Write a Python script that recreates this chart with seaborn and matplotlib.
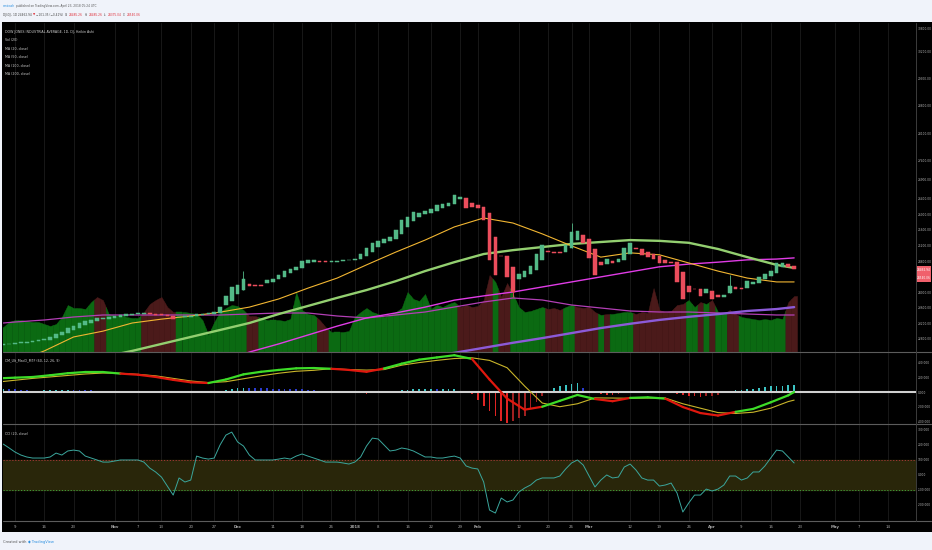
import numpy as np
import matplotlib
matplotlib.use("Agg")
import matplotlib.pyplot as plt
import matplotlib.transforms as mtransforms
import seaborn as sns
from matplotlib.collections import LineCollection
from matplotlib.patches import Rectangle
from matplotlib.lines import Line2D

W, H = 932, 550

# Trading-day positions: 0 = Oct 9 2017, last bar (133) = Apr 20 2018
bar_idx = np.arange(-2, 134)

# Heikin Ashi candles (one value per bar, from Oct 5 2017)
ha_open = [
    22620, 22650, 22660, 22680, 22690, 22710, 22730, 22750, 22770, 22810,
    22880, 22950, 23020, 23070, 23140, 23190, 23240, 23300, 23310, 23340,
    23360, 23380, 23400, 23420, 23440, 23460, 23440, 23420, 23410, 23390,
    23350, 23360, 23360, 23370, 23410, 23420, 23440, 23470, 23660, 23780,
    23950, 24060, 24200, 24180, 24170, 24220, 24270, 24330, 24400, 24500,
    24570, 24610, 24740, 24780, 24800, 24790, 24770, 24780, 24800, 24820,
    24830, 24840, 24930, 25040, 25170, 25260, 25320, 25380, 25500, 25690,
    25820, 25940, 26000, 26050, 26100, 26160, 26220, 26270, 26390, 26420,
    26290, 26250, 26200, 26030, 25430, 24930, 24930, 24650, 24330, 24400,
    24470, 24570, 24830, 25060, 25040, 25020, 25020, 25130, 25340, 25460,
    25360, 25120, 24780, 24720, 24810, 24780, 24830, 24990, 25130, 25120,
    25040, 24980, 24920, 24830, 24780, 24770, 24520, 24160, 24090, 24080,
    23980, 24030, 23910, 23880, 23970, 24120, 24110, 24100, 24210, 24240,
    24330, 24410, 24500, 24640, 24710, 24680,
]
ha_close = [
    22660, 22670, 22680, 22700, 22720, 22730, 22750, 22780, 22830, 22920,
    22980, 23060, 23110, 23190, 23240, 23280, 23320, 23330, 23350, 23370,
    23400, 23420, 23430, 23450, 23470, 23430, 23410, 23400, 23380, 23300,
    23360, 23370, 23390, 23430, 23420, 23460, 23480, 23620, 23900, 24120,
    24180, 24330, 24160, 24150, 24160, 24310, 24340, 24430, 24550, 24600,
    24640, 24810, 24820, 24830, 24770, 24770, 24790, 24810, 24830, 24830,
    24860, 24980, 25130, 25270, 25320, 25370, 25430, 25600, 25860, 25940,
    26060, 26050, 26090, 26150, 26240, 26270, 26290, 26500, 26460, 26160,
    26200, 26160, 25860, 24830, 24430, 24920, 24380, 24010, 24470, 24550,
    24670, 24980, 25210, 25030, 25000, 25010, 25200, 25560, 25570, 25260,
    24870, 24440, 24700, 24860, 24760, 24860, 25140, 25260, 25110, 24960,
    24910, 24860, 24740, 24740, 24750, 24270, 23810, 24010, 24080, 23900,
    24070, 23810, 23860, 23930, 24160, 24090, 24090, 24290, 24260, 24380,
    24460, 24550, 24740, 24760, 24650, 24590,
]
# the few visible wicks
wick_idx = [39, 85, 95, 122]
wick_hi = [24530, 24650, 25770, 24440]
wick_lo = [24060, 23860, 25130, 23970]

# Volume (millions) and the bars shown in red
volume = [
    200, 240, 256, 256, 248, 240, 240, 224, 208, 224,
    280, 376, 352, 352, 344, 400, 440, 416, 304, 288,
    296, 280, 272, 272, 320, 384, 416, 440, 360, 320,
    320, 320, 312, 304, 256, 136, 240, 320, 352, 376,
    368, 336, 288, 288, 272, 256, 256, 256, 248, 264,
    480, 336, 304, 296, 256, 200, 160, 160, 160, 168,
    280, 320, 352, 320, 304, 280, 296, 320, 352, 480,
    424, 408, 464, 344, 376, 360, 384, 400, 360, 376,
    360, 368, 416, 616, 560, 440, 552, 464, 360, 320,
    328, 344, 360, 344, 352, 336, 360, 376, 360, 352,
    360, 320, 296, 304, 304, 312, 320, 320, 304, 320,
    312, 512, 336, 320, 328, 376, 384, 416, 360, 400,
    384, 416, 320, 304, 336, 304, 280, 272, 264, 256,
    264, 256, 272, 264, 400, 448,
]
vol_red_idx = [14, 15, 22, 23, 24, 25, 26, 27, 40, 41, 52, 53, 76, 77, 78, 79,
               80, 81, 83, 84, 91, 92, 93, 96, 97, 98, 99, 101, 106, 107, 108,
               109, 110, 111, 112, 113, 114, 117, 119, 122, 123, 132, 133]
volma_idx = [-2] + list(range(0, 131, 5)) + [133]
vol_ma = [232, 240, 256, 280, 296, 296, 296, 296, 296, 304, 312, 312, 288, 272,
          296, 320, 360, 400, 432, 416, 376, 352, 328, 320, 320, 312, 304, 296, 296]

# Moving averages, read every 5 bars
ma_idx = list(range(0, 131, 5)) + [133]
ma20 = [22190, 22480, 22840, 22990, 23200, 23300, 23380, 23480, 23610, 23820,
        24100, 24360, 24700, 25030, 25340, 25680, 25910, 25780, 25500, 25190,
        24900, 25010, 24960, 24750, 24540, 24360, 24260, 24260]
ma50 = [21860, 21990, 22140, 22320, 22480, 22660, 22840, 23020, 23200, 23430,
        23640, 23850, 24050, 24280, 24540, 24770, 24980, 25080, 25160, 25240,
        25290, 25340, 25320, 25270, 25110, 24900, 24700, 24620]
ma100_idx = list(range(30, 131, 5)) + [133]
ma100 = [21940, 22190, 22450, 22660, 22890, 23120, 23330, 23460, 23610, 23790,
         23900, 24000, 24130, 24260, 24390, 24520, 24650, 24720, 24770, 24830,
         24850, 24880]
ma200_idx = list(range(70, 131, 5)) + [133]
ma200 = [22320, 22430, 22560, 22690, 22810, 22940, 23070, 23180, 23280, 23360,
         23430, 23510, 23560, 23610]

# MACD lines, read every 3 bars; histogram per bar
macd_idx = list(range(-3, 133, 3)) + [133]
macd_line = [185, 195, 204, 228, 255, 272, 272, 250, 235, 205, 165, 132, 122, 170,
             240, 275, 300, 322, 326, 316, 300, 275, 320, 385, 440, 470, 500, 450,
             170, -90, -240, -200, -120, -40, -95, -125, -80, -72, -90, -204, -286,
             -320, -270, -230, -140, -45, 0]
macd_signal = [135, 160, 185, 205, 225, 245, 258, 255, 240, 220, 185, 150, 128, 140,
               180, 220, 255, 282, 295, 318, 305, 298, 305, 365, 400, 430, 455, 465,
               430, 330, 80, -150, -200, -160, -80, -82, -85, -82, -82, -160, -220,
               -280, -292, -275, -220, -130, -110]
macd_hist = [
    45, 40, 35, 30, 25, 20, 20, 22, 24, 26,
    28, 30, 29, 28, 27, 22, 18, 12, 4, -2,
    -5, -5, -5, -6, -9, -12, -15, -17, -19, -20,
    -20, -19, -18, -14, -10, -4, 8, 20, 30, 42,
    52, 60, 58, 56, 54, 50, 47, 45, 43, 41,
    40, 37, 34, 30, 20, 10, -2, -4, -5, -6,
    -12, -18, -23, -8, 5, 15, 17, 19, 21, 28,
    35, 40, 41, 41, 40, 42, 44, 45, 20, -5,
    -30, -110, -190, -260, -330, -390, -420, -400, -360, -320,
    -230, -140, -50, 10, 50, 80, 100, 115, 120, 60,
    10, -15, -25, -35, -43, -30, -10, 5, 8, 10,
    10, 5, -2, -8, -20, -32, -44, -52, -60, -66,
    -58, -50, -40, -10, 10, 22, 30, 38, 45, 56,
    68, 80, 85, 88, 90, 100,
]

# CCI (20, close), per bar
cci = [
    203, 177, 150, 130, 117, 110, 110, 110, 117, 143,
    130, 157, 163, 157, 123, 110, 97, 83, 83, 90,
    97, 97, 97, 97, 83, 43, 17, -17, -77, -137,
    -23, -50, -37, 123, 110, 103, 110, 197, 263, 283,
    217, 190, 130, 97, 97, 97, 97, 103, 110, 103,
    123, 137, 123, 110, 97, 83, 83, 83, 77, 70,
    83, 117, 190, 243, 237, 197, 157, 163, 177, 170,
    157, 137, 117, 117, 110, 110, 117, 123, 110, 57,
    43, 37, -50, -237, -257, -157, -183, -170, -117, -90,
    -70, -37, -23, -23, -23, -10, 37, 77, 97, 63,
    -10, -83, -37, -3, -23, -17, 50, 70, 30, -23,
    -37, -37, -77, -70, -57, -123, -250, -190, -137, -137,
    -97, -110, -97, -70, -10, -10, -37, -23, 17, 17,
    57, 110, 163, 157, 117, 77,
]

# Axis ticks
tick_pos = [0, 5, 10, 17, 21, 25, 30, 34, 38, 44, 49, 54, 58, 62, 67, 71, 76, 79,
            86, 91, 95, 98, 105, 110, 115, 119, 124, 129, 134, 140, 144, 149]
tick_lab = ["9", "16", "23", "Nov", "7", "13", "20", "27", "Dec", "11", "18", "26",
            "2018", "8", "16", "22", "29", "Feb", "12", "20", "26", "Mar", "12",
            "19", "26", "Apr", "9", "16", "23", "May", "7", "14"]
month_labels = ["Nov", "Dec", "2018", "Feb", "Mar", "Apr", "May"]
price_ticks = [22800, 23200, 23600, 24000, 24800, 25200, 25600, 26000, 26400,
               26900, 27400, 28100, 28800, 29500, 30200, 30800]
macd_ticks = [-400, -200, 0, 200, 400]
cci_ticks = [-200, -100, 0, 100, 200, 300]
last_price = 24462.94

UP, DN = "#53b987", "#eb4d5c"
VOL_UP, VOL_DN = "#0b6a12", "#4b1a1a"
XLIM = (-2.05, 153.8)

sns.set_style("dark", {"axes.facecolor": "black", "figure.facecolor": "#f0f3fa"})
plt.rcParams["font.family"] = ["DejaVu Sans"]
plt.rcParams["patch.force_edgecolor"] = False

fig = plt.figure(figsize=(W / 100, H / 100), dpi=100)
fig.patch.set_facecolor("#f0f3fa")
fig.add_artist(Rectangle((2 / W, 1 - 532 / H), 930 / W, 510 / H, transform=fig.transFigure,
                         facecolor="black", edgecolor="none", zorder=-5))


def px_axes(x0, y0, x1, y1):
    return fig.add_axes([x0 / W, 1 - y1 / H, (x1 - x0) / W, (y1 - y0) / H])


def ftext(x, y, s, **kw):
    return fig.text(x / W, 1 - y / H, s, va="center", ha="left", **kw)


def run_text(x, y, pieces, size):
    r = fig.canvas.get_renderer()
    for s, col in pieces:
        t = ftext(x, y, s, color=col, fontsize=size)
        x += t.get_window_extent(r).width + 1.2


# --- volume (own axes, behind the price axes)
ax_v = px_axes(3, 23, 916, 352)
ax_v.set_facecolor("black")
vol = np.array(volume, float)
mid = (vol[:-1] + vol[1:]) / 2
left = np.r_[vol[0], mid]
right = np.r_[mid, vol[-1]]
for k, i in enumerate(bar_idx):
    col = VOL_DN if i in vol_red_idx else VOL_UP
    ax_v.fill_between([i - 0.5, i, i + 0.5], 0, [left[k], vol[k], right[k]],
                      facecolor=col, edgecolor=col, linewidth=0.3, zorder=1)
sns.lineplot(x=volma_idx, y=vol_ma, ax=ax_v, color="#b23fb5", lw=0.9, zorder=2)
ax_v.set_ylim(0, 2632)
ax_v.set_yticks([])

# --- price panel
ax_p = px_axes(3, 23, 916, 352)
ax_p.set_facecolor("none")
sns.lineplot(x=ma200_idx, y=ma200, ax=ax_p, color="#8c5ad8", lw=1.7, zorder=2)
sns.lineplot(x=ma100_idx, y=ma100, ax=ax_p, color="#e03ce6", lw=1.0, zorder=2)
sns.lineplot(x=ma_idx, y=ma50, ax=ax_p, color="#93cf70", lw=1.7, zorder=2)
sns.lineplot(x=ma_idx, y=ma20, ax=ax_p, color="#f2b632", lw=0.8, zorder=2)

o = np.array(ha_open, float)
c = np.array(ha_close, float)
ccol = np.where(c >= o, UP, DN)
wcol = [ccol[i + 2] for i in wick_idx]
ax_p.vlines(wick_idx, wick_lo, wick_hi, colors=wcol, lw=0.6, zorder=3)
ax_p.bar(bar_idx, c - o, bottom=o, width=0.62, color=ccol, edgecolor=ccol,
         linewidth=0.35, zorder=4)
ax_p.set_ylim(22452, 30941)
ax_p.set_yticks(price_ticks)
ax_p.set_yticklabels([f"{t:.2f}" for t in price_ticks])

# last price box on the right scale
trans = mtransforms.blended_transform_factory(ax_p.transAxes, ax_p.transData)
ax_p.add_patch(Rectangle((1.0, last_price - 215), 15 / 913, 420, transform=trans,
                         facecolor="#f0606c", edgecolor="none", clip_on=False, zorder=6))
ax_p.text(1.0 + 7.5 / 913, last_price + 100, f"{last_price:.2f}", transform=trans,
          ha="center", va="center", fontsize=2.1, color="white", clip_on=False, zorder=7)
ax_p.text(1.0 + 7.5 / 913, last_price - 110, "24540.06", transform=trans,
          ha="center", va="center", fontsize=2.1, color="white", clip_on=False, zorder=7)

# --- MACD panel
ax_m = px_axes(3, 352, 916, 424)
hist = np.array(macd_hist, float)
prev = np.r_[hist[0], hist[:-1]]
hcol = np.where(hist >= 0, np.where(hist >= prev, "#3cc4c4", "#2a3bd0"),
                np.where(hist <= prev, "#e02424", "#a02020"))
ax_m.bar(bar_idx, hist, width=0.3, color=hcol, edgecolor="none", linewidth=0, zorder=2)
ax_m.axhline(0, color="#d0d0d0", lw=1.5, zorder=3)
sns.lineplot(x=macd_idx, y=macd_signal, ax=ax_m, color="#c9b52a", lw=0.8, zorder=4)
m = np.array(macd_line, float)
s = np.array(macd_signal, float)
pts = np.column_stack([macd_idx, m])
segs = np.stack([pts[:-1], pts[1:]], axis=1)
above = (m[:-1] + m[1:]) >= (s[:-1] + s[1:])
ax_m.add_collection(LineCollection(segs, colors=np.where(above, "#3ddc28", "#e0180e"),
                                   linewidths=1.6, capstyle="round", zorder=5))
ax_m.set_ylim(-435, 544)
ax_m.set_yticks(macd_ticks)
ax_m.set_yticklabels([f"{t:.3f}" for t in macd_ticks])

# --- CCI panel
ax_c = px_axes(3, 424, 916, 521)
ax_c.axhspan(-100, 100, color="#29260a", zorder=1)
ax_c.axhline(100, color="#b13a3a", lw=0.6, ls=(0, (1.5, 2)), zorder=2)
ax_c.axhline(-100, color="#3fae3f", lw=0.6, ls=(0, (1.5, 2)), zorder=2)
sns.lineplot(x=bar_idx, y=cci, ax=ax_c, color="#3ba79d", lw=0.7, zorder=3)
ax_c.set_ylim(-310, 337)
ax_c.set_yticks(cci_ticks)
ax_c.set_yticklabels([f"{t:.3f}" for t in cci_ticks])

# shared formatting
for ax in (ax_v, ax_p, ax_m, ax_c):
    ax.set_xlim(*XLIM)
    ax.set_xticks(tick_pos)
    ax.set_xlabel("")
    ax.set_ylabel("")
    ax.tick_params(axis="x", length=0, labelbottom=False)
    for sp in ax.spines.values():
        sp.set_visible(False)
    ax.grid(False)
for ax in (ax_v, ax_m, ax_c):
    ax.grid(True, axis="x", color="#1c1c1c", lw=0.6)
    ax.set_axisbelow(True)
for ax in (ax_p, ax_m, ax_c):
    ax.yaxis.tick_right()
    ax.tick_params(axis="y", length=0, pad=1.5, labelsize=2.1, labelcolor="#b8b8b8")

ax_c.set_xticklabels(tick_lab)
ax_c.tick_params(axis="x", labelbottom=True, labelsize=2.8, labelcolor="#a8a8a8", pad=3)
for t in ax_c.get_xticklabels():
    if t.get_text() in month_labels:
        t.set_fontweight("bold")

# panel separators and right scale border
for yy in (352, 424, 521):
    fig.add_artist(Line2D([3 / W, 931 / W], [1 - yy / H] * 2, color="#5c5c5c", lw=0.8))
fig.add_artist(Line2D([916 / W] * 2, [1 - 23 / H, 1 - 521 / H], color="#3c3c3c", lw=0.7))

# header
run_text(3, 6, [("arnicash", "#2a8fe0"),
                ("published on TradingView.com, April 23, 2018 05:24 UTC", "#555555")], 2.1)
run_text(3, 15, [("DJI:DJI, 1D 24462.94", "#444444"), ("\u25bc", "#e0303a"),
                 ("\u2212101.35 (\u22120.41%)", "#444444"),
                 ("O:", "#444444"), ("24485.26", "#e0303a"),
                 ("H:", "#444444"), ("24485.26", "#e0303a"),
                 ("L:", "#444444"), ("24375.04", "#e0303a"),
                 ("C:", "#444444"), ("24540.06", "#e0303a")], 2.1)

# indicator legends
legend_rows = ["DOW JONES INDUSTRIAL AVERAGE, 1D, DJ, Heikin Ashi", "Vol (20)",
               "MA (20, close)", "MA (50, close)", "MA (100, close)", "MA (200, close)"]
for k, row in enumerate(legend_rows):
    ftext(5, 32 + k * 8.4, row, color="#d0d0d0", fontsize=2.3)
ftext(5, 360, "CM_Ult_MacD_MTF (60, 12, 26, 9)", color="#d0d0d0", fontsize=2.3)
ftext(5, 434, "CCI (20, close)", color="#d0d0d0", fontsize=2.3)

# footer
run_text(3, 542, [("Created with", "#555555"), ("\u25c6 TradingView", "#2a8fe0")], 2.6)

fig.savefig("out.png", dpi=100, facecolor=fig.get_facecolor())
